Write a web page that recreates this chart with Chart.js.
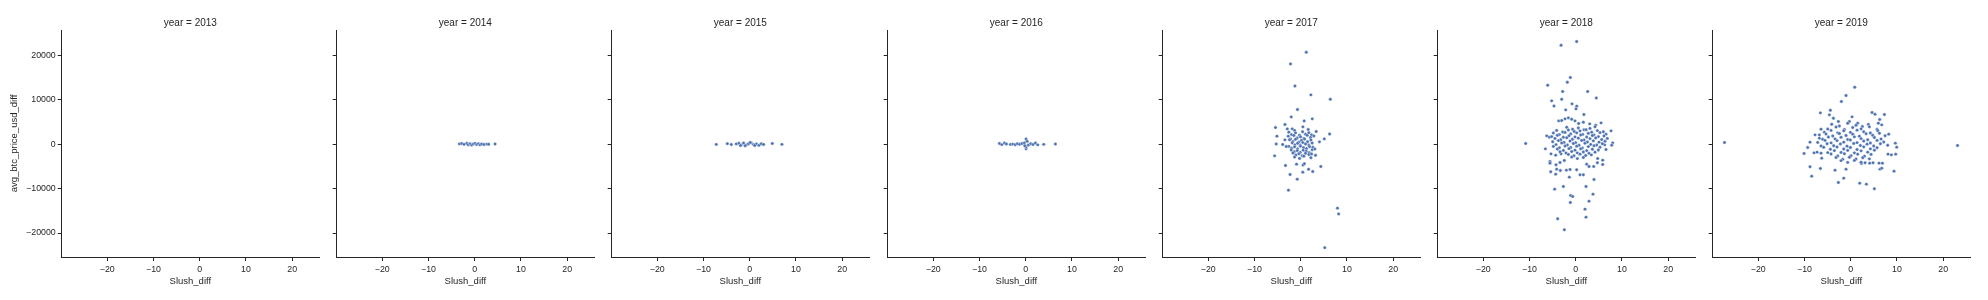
<!DOCTYPE html>
<html>
<head>
<meta charset="utf-8">
<script src="https://cdn.jsdelivr.net/npm/chart.js@4.4.1/dist/chart.umd.min.js"></script>
<style>
  body { margin: 0; background: #fff; }
  #wrap { position: relative; width: 1988px; height: 300px; overflow: hidden; }
  #wrap canvas { position: absolute; top: 0; }
</style>
</head>
<body>
<div id="wrap"></div>
<script>
// facet years
var years = [2013, 2014, 2015, 2016, 2017, 2018, 2019];

var xTicks = [-20, -10, 0, 10, 20];
var yTicks = [-20000, -10000, 0, 10000, 20000];

// Slush_diff / avg_btc_price_usd_diff per year
var slush2013 = [];
var price2013 = [];

var slush2014 = [-3.3, -2.8, -2.3, -1.7, -1.4, -1.0, -0.65, -0.3, 0.07, 0.43, 0.8, 1.15, 1.5, 2.0, 2.6, 3.0, 4.4];
var price2014 = [60, 150, -40, 200, -120, 90, -200, 30, 180, -80, 120, -150, 40, -60, 20, -30, 50];

var slush2015 = [-7.23, -4.85, -3.99, -2.91, -2.33, -1.82, -1.32, -0.74, -0.24, 0.34, 0.84, 1.42, 2.0, 2.5, 3.0, 4.88, 6.97, -1.0, 0.1, 1.1, -2.0];
var price2015 = [-50, 120, -80, 60, 200, -150, 250, -200, 100, 300, -100, 50, -250, 80, -60, 150, -40, -350, 380, -300, -320];

var slush2016 = [-5.69, -5.18, -4.6, -4.18, -3.31, -2.8, -2.3, -1.8, -1.29, -0.79, -0.28, 0.08, 0.08, 0.08, 0.58, 1.09, 1.59, 2.1, 2.6, 3.9, 6.42, 0.3, -0.2];
var price2016 = [150, -100, 250, 50, -50, 20, -120, 80, -30, 150, 300, 1150, -1050, -600, -200, 100, -80, 250, -150, -40, 30, 650, -350];

var slush2017 = [1.2, -2.2, -1.25, 2.2, 6.4, -0.7, -2.05, 2.5, 0.75, -5.45,
  -3.4, -2.9, -5.15, 6.25, 3.35, 5.1, 4.05, -5.3, -3.9, -5.65,
  -3.3, -0.9, 0.5, 0.8, 4.35, 1.7, 2.6, 0.45, -2.3, -0.75,
  -2.65, 7.95, 8.2, 5.2,
  -1.84, -1.33, 0.47, 1.62,
  -2.56, -1.98, -1.12, -0.25, 0.4, 1.04, 1.76, 2.34,
  -2.7, -2.2, -1.48, -0.76, -0.04, 0.68, 1.4, 2.12, 2.84,
  -2.41, -1.69, -1.12, -0.4, 0.18, 0.83, 1.48, 2.2,
  -1.84, -1.26, -0.68, -0.11, 0.47, 1.04, 1.76, 2.48,
  -2.56, -1.98, -1.33, -0.68, -0.04, 0.61, 1.26, 1.91, 2.63,
  -2.05, -1.4, -0.76, -0.11, 0.54, 1.19, 1.84, 2.48, 3.06,
  -1.69, -1.04, -0.4, 0.32, 1.04, 1.76, 2.34,
  -1.33, -0.25, 0.68, 2.2, 3.2,
  -3.13, -3.42];
var price2017 = [20700, 18070, 13100, 11100, 10100, 7800, 6140, 5700, 5240, 3740,
  4420, 3440, 1800, 2300, 2840, 1190, 520, 50, -80, -2630,
  -4810, -4500, -4700, -4400, -5030, -5630, -6160, -6300, -6830, -7880,
  -10350, -14400, -15700, -23300,
  3450, 3100, 3900, 3300,
  2700, 2150, 2550, 2000, 2800, 2250, 2600, 2100,
  1800, 1200, 1950, 1400, 1650, 1300, 2000, 1500, 1850,
  1000, 600, 1100, 450, 850, 1150, 550, 950,
  300, -150, 200, -250, 350, 50, -200, 250,
  -500, -900, -600, -1050, -450, -800, -1000, -550, -700,
  -1300, -1700, -1450, -1850, -1350, -1600, -1900, -1250, -1100,
  -2000, -2450, -2150, -2600, -2050, -2350, -2200,
  -2900, -3200, -2700, -3050, -2500,
  -525, 975];

var slush2018 = [-3.17, 0.21, -1.16, -1.81, -6.06, -2.82, 2.59, 4.46, -5.2, -3.03,
  -4.7, -0.8, 0.21, 0.06, -2.17, 1.77, -3.68, -3.03, -2.31, -1.59,
  -0.87, -0.15, 0.64, 1.65, 3.02, 4.32, 5.48, 7.64, 8.0, 7.78,
  6.27, 6.55, -10.82, -6.56, -6.27, -5.7, -5.34, -4.33, -3.17, -5.56,
  -5.56, -3.4, -2.46, -4.26, 4.75, 4.68, 5.84, 5.84, 3.89, -1.23,
  -2.02, 0.21, -3.32, -4.11, 2.37, 2.88, 0.93, 1.65, -1.38, -4.33,
  -5.41, 3.96, -2.67, 2.23, -4.55, 3.74, -1.09, -0.66, -1.16, 2.88,
  2.01, 2.23, -3.9, -2.46,
  -1.95, -0.66, 0.57, 1.79, 3.09, 4.17,
  -4.12, -2.82, -1.59, -0.3, 0.93, 2.23, 3.45, 4.68, 5.98,
  -4.84, -3.54, -2.31, -1.09, 0.21, 1.51, 2.73, 3.96, 5.26, 6.55,
  -5.2, -3.97, -2.67, -1.45, -0.15, 1.07, 2.37, 3.6, 4.9, 6.12,
  -4.48, -3.25, -1.95, -0.73, 0.57, 1.79, 3.09, 4.32, 5.62, 6.84,
  -4.98, -3.76, -2.53, -1.23, -0.01, 1.29, 2.52, 3.81, 5.04, 6.34,
  -4.26, -3.04, -1.81, -0.51, 0.71, 2.01, 3.24, 4.53, 5.76,
  -4.84, -3.54, -2.31, -1.09, 0.21, 1.43, 2.73, 3.96, 5.26,
  -3.97, -2.67, -1.45, -0.15, 1.07, 2.37, 3.6, 4.9,
  -3.4, -2.1, -0.87, 0.35, 1.65, 2.88, 4.17,
  -1.59, -0.37, 0.93, 2.15, 3.38,
  -0.87, 0.35, 1.65];
var price2018 = [22270, 23100, 15000, 13950, 13275, 11850, 11850, 10400, 9750, 10100,
  8600, 9075, 8550, 7950, 7725, 6675, 5250, 5325, 5700, 5925,
  5625, 5250, 4650, 4950, 4575, 4275, 4800, 3000, 300, -225,
  -150, -1200, 150, -1050, 1875, 1575, -2175, -2475, -2175, -3900,
  -4275, -4125, -3675, -4650, -3225, -4200, -3600, -4575, -5025, -5700,
  -5850, -5775, -5925, -5625, -4500, -5025, -6900, -6900, -7425, -6750,
  -6225, -7950, -9525, -9525, -10125, -11250, -11550, -11775, -13125, -12825,
  -14625, -16425, -16800, -19275,
  3800, 3350, 3650, 3250, 3550, 3900,
  3100, 2750, 3200, 2850, 3000, 3250, 2700, 3050, 2800,
  2500, 2150, 2650, 2300, 2550, 2200, 2450, 2100, 2600, 2250,
  1700, 2000, 1550, 1900, 1650, 2050, 1600, 1950, 1700, 1850,
  1300, 1000, 1450, 1100, 1350, 950, 1250, 1400, 1050, 1300,
  550, 800, 400, 700, 350, 850, 500, 750, 450, 650,
  -100, 250, -200, 150, -250, 200, -50, -200, 100,
  -500, -800, -400, -750, -450, -850, -550, -350, -700,
  -1100, -1400, -1000, -1350, -1050, -1450, -1150, -1300,
  -1700, -2000, -1650, -1950, -1750, -2050, -1800,
  -2300, -2600, -2250, -2550, -2400,
  -2900, -3250, -3000];

var slush2019 = [-27.3, 23.1, 0.87, -1.01, -2.02, -6.56, -4.4, -4.61, -3.75, -2.67,
  0.29, -0.29, 1.51, 2.52, 4.61, 5.26, 7.28, 6.27, 5.98, 6.71,
  -6.42, -7.71, -6.78, -6.78, -8.8, -9.3, -10.09, -7.93, -7.28, -6.42,
  -6.27, -8.8, -8.44, -6.56, -3.39, -1.01, -1.51, -2.67, 1.95, 3.39,
  5.12, 6.34, 6.71, 9.37, 8.22, 9.66, 9.95, 8.08, 8.8, 9.73,
  6.13, 6.85, 4.83, 4.11, 2.31, 3.1,
  -4.11, -2.45, -0.65, 1.15, 3.82,
  -4.97, -3.17, -1.37, 0.43, 2.24, 4.04, 5.7,
  -5.7, -4.25, -2.81, -1.51, -0.07, 1.37, 2.81, 4.25, 5.84,
  -5.34, -3.89, -2.45, -1.01, 0.43, 1.87, 3.32, 4.76, 6.2, 7.43,
  -6.06, -4.83, -3.39, -2.09, -0.65, 0.79, 2.24, 3.68, 5.12, 6.56,
  -7.14, -5.55, -4.25, -2.96, -1.51, -0.07, 1.37, 2.81, 4.25, 5.7, 7.14,
  -6.42, -5.12, -3.68, -2.24, -0.79, 0.65, 2.09, 3.53, 4.97, 6.42, 8.0,
  -5.84, -4.4, -2.96, -1.51, -0.07, 1.37, 2.81, 4.25, 5.7,
  -4.97, -3.53, -2.09, -0.65, 0.79, 2.24, 3.68, 5.12,
  -4.25, -2.81, -1.37, 0.07, 1.51, 2.96, 4.4,
  -3.17, -1.73, -0.29, 1.15, 2.6, 4.04,
  -2.09, -0.65, 0.79, 2.24];
var price2019 = [360, -315, 12825, 10950, 9600, 7050, 7650, 6600, 5850, 5100,
  6150, 5100, 4725, 3975, 7125, 6750, 6675, 5550, 4725, 4350,
  3375, 2100, 2100, 1350, 450, -750, -2100, -1950, -1800, -2025,
  -3150, -5100, -7200, -5475, -5850, -5625, -7650, -8625, -8775, -9000,
  -10050, -5625, -5400, -6075, 2250, 225, -675, -2250, -2400, -2250,
  -4275, -4275, -4200, -4275, -4350, -4200,
  4500, 4100, 4700, 4250, 4450,
  3400, 3850, 3300, 3750, 3450, 3900, 3350,
  2700, 3100, 2550, 3000, 2650, 3150, 2800, 2500, 3050,
  2300, 1850, 2400, 1950, 2250, 1800, 2350, 2000, 2450, 1900,
  1100, 1600, 1200, 1550, 1050, 1650, 1250, 1000, 1500, 1150,
  400, 850, 300, 800, 450, 950, 350, 700, 250, 850, 500,
  -400, 100, -350, 50, -450, 150, -300, 0, -400, 100, -250,
  -700, -1150, -650, -1100, -750, -1200, -600, -1050, -800,
  -1900, -1450, -1850, -1400, -1950, -1500, -1800, -1350,
  -2200, -2650, -2150, -2600, -2250, -2700, -2300,
  -3000, -3400, -2950, -3350, -3050, -3300,
  -3700, -4100, -3650, -4050];

var slushByYear = [slush2013, slush2014, slush2015, slush2016, slush2017, slush2018, slush2019];
var priceByYear = [price2013, price2014, price2015, price2016, price2017, price2018, price2019];

var FONT = "'Liberation Sans', Arial, sans-serif";
var INK = '#262626';

function minusSign(v) {
  return String(v).replace('-', '\u2212');
}

// facet title drawn centred over the plot area like matplotlib does
var facetTitle = {
  id: 'facetTitle',
  afterDraw: function (chart) {
    var ctx = chart.ctx;
    var area = chart.chartArea;
    ctx.save();
    ctx.fillStyle = INK;
    ctx.font = '10px ' + FONT;
    ctx.textAlign = 'center';
    ctx.textBaseline = 'middle';
    ctx.fillText(chart.options.plugins.facetTitle.text, (area.left + area.right) / 2, 23);
    ctx.restore();
  }
};

var wrap = document.getElementById('wrap');

years.forEach(function (year, i) {
  var canvas = document.createElement('canvas');
  canvas.width = 330;
  canvas.height = 300;
  canvas.style.left = (275.2 * i) + 'px';
  wrap.appendChild(canvas);

  var pts = slushByYear[i].map(function (x, k) {
    return { x: x, y: priceByYear[i][k] };
  });

  var axisLine = { display: true, color: INK, width: 1 };
  var gridOpts = { display: true, drawOnChartArea: false, drawTicks: true, tickLength: 4, color: INK, lineWidth: 1 };

  new Chart(canvas.getContext('2d'), {
    type: 'scatter',
    data: {
      datasets: [{
        data: pts,
        backgroundColor: '#4c72b0',
        borderColor: '#ffffff',
        borderWidth: 0.4,
        pointRadius: 1.7,
        pointHoverRadius: 1.7
      }]
    },
    plugins: [facetTitle],
    options: {
      responsive: false,
      animation: false,
      events: [],
      devicePixelRatio: 1,
      layout: { padding: { left: 0, right: 11, top: 30, bottom: 0 } },
      plugins: {
        legend: { display: false },
        tooltip: { enabled: false },
        facetTitle: { text: 'year = ' + year }
      },
      scales: {
        x: {
          type: 'linear',
          min: -29.85,
          max: 25.8,
          afterBuildTicks: function (s) { s.ticks = xTicks.map(function (v) { return { value: v }; }); },
          afterFit: function (s) { s.height = 43; },
          grid: gridOpts,
          border: axisLine,
          ticks: {
            autoSkip: false,
            maxRotation: 0,
            padding: 3,
            color: INK,
            font: { size: 8.8, family: FONT },
            callback: function (v) { return minusSign(v); }
          },
          title: {
            display: true,
            text: 'Slush_diff',
            color: INK,
            font: { size: 9.5, family: FONT },
            padding: { top: 0, bottom: 13 }
          }
        },
        y: {
          type: 'linear',
          min: -25400,
          max: 25700,
          afterBuildTicks: function (s) { s.ticks = yTicks.map(function (v) { return { value: v }; }); },
          afterFit: function (s) { s.width = 61.7; },
          grid: gridOpts,
          border: axisLine,
          ticks: {
            autoSkip: false,
            padding: 2,
            color: INK,
            font: { size: 8.8, family: FONT },
            callback: function (v) { return i === 0 ? minusSign(v) : ''; }
          },
          title: {
            display: i === 0,
            text: 'avg_btc_price_usd_diff',
            color: INK,
            font: { size: 9.5, family: FONT },
            padding: { top: 9, bottom: 0 }
          }
        }
      }
    }
  });
});
</script>
</body>
</html>
